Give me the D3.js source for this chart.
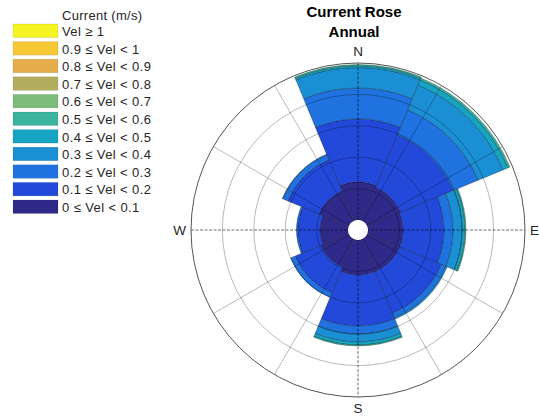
<!DOCTYPE html>
<html>
<head>
<meta charset="utf-8">
<script src="https://cdn.jsdelivr.net/npm/d3@7"></script>
<style>
  html, body { margin: 0; padding: 0; background: #fff; }
  svg { display: block; font-family: "Liberation Sans", Arial, Helvetica, sans-serif; }
</style>
</head>
<body>
<svg id="chart" width="539" height="416"></svg>
<script>
// Compass sectors (degrees clockwise from north), each 45° wide
const directions = ["N", "NE", "E", "SE", "S", "SW", "W", "NW"];
const directionAngles = [0, 45, 90, 135, 180, 225, 270, 315];

// Speed classes, lowest first
const speedLabels = [
  "0 \u2264 Vel < 0.1", "0.1 \u2264 Vel < 0.2", "0.2 \u2264 Vel < 0.3", "0.3 \u2264 Vel < 0.4",
  "0.4 \u2264 Vel < 0.5", "0.5 \u2264 Vel < 0.6", "0.6 \u2264 Vel < 0.7", "0.7 \u2264 Vel < 0.8",
  "0.8 \u2264 Vel < 0.9", "0.9 \u2264 Vel < 1", "Vel \u2265 1"
];
const speedColors = [
  "#2f2a8a", "#2349da", "#1f72df", "#1a8fd4", "#15a5c3", "#3bb49d",
  "#7dbc7b", "#b2ae5d", "#e6ad4b", "#f6c834", "#f6f524"
];

// Frequency of occurrence (%) per speed class, ordered N, NE, E, SE, S, SW, W, NW
const freq0_01 = [4.84, 4.59, 4.46, 4.46, 4.46, 3.82, 3.57, 4.08];
const freq01_02 = [8.03, 7.26, 5.22, 5.73, 6.50, 3.57, 2.80, 4.33];
const freq02_03 = [3.95, 3.44, 1.15, 0.64, 1.01, 0.64, 0.19, 0.70];
const freq03_04 = [2.61, 3.44, 1.15, 0.19, 1.02, 0, 0, 0.06];
const freq04_05 = [0.23, 0.70, 0.38, 0, 0.38, 0, 0, 0];
const freq05_06 = [0.15, 0.25, 0.13, 0, 0.13, 0, 0, 0];
const freq06_07 = [0, 0, 0, 0, 0, 0, 0, 0];
const freq07_08 = [0, 0, 0, 0, 0, 0, 0, 0];
const freq08_09 = [0, 0, 0, 0, 0, 0, 0, 0];
const freq09_1 = [0, 0, 0, 0, 0, 0, 0, 0];
const freq1_up = [0, 0, 0, 0, 0, 0, 0, 0];
const speedFreqs = [freq0_01, freq01_02, freq02_03, freq03_04, freq04_05, freq05_06,
                    freq06_07, freq07_08, freq08_09, freq09_1, freq1_up];

// Frequency rings (%)
const ringTicks = [4, 8, 12, 16, 20];
const radialGridAngles = [30, 60, 120, 150, 210, 240, 300, 330];

const titleLines = ["Current Rose", "Annual"];
const legendTitle = "Current (m/s)";

const svg = d3.select("#chart");
const cx = 358, cy = 230;
const holeR = 10, outerR = 167;
const sectorWidth = 45;

const r = d3.scaleLinear().domain([0, d3.max(ringTicks)]).range([holeR, outerR]);
const rad = d => d * Math.PI / 180;

const g = svg.append("g").attr("transform", `translate(${cx},${cy})`);

// Stacked wedges
const arc = d3.arc();
const wedges = [];
directions.forEach((dir, i) => {
  let cum = 0;
  speedFreqs.forEach((f, s) => {
    const v = f[i];
    if (v > 0) {
      wedges.push({ dir, s, inner: cum, outer: cum + v, angle: directionAngles[i] });
    }
    cum += v;
  });
});

g.append("g").selectAll("path").data(wedges).join("path")
  .attr("d", d => arc({
    innerRadius: r(d.inner), outerRadius: r(d.outer),
    startAngle: rad(d.angle - sectorWidth / 2), endAngle: rad(d.angle + sectorWidth / 2)
  }))
  .attr("fill", d => speedColors[d.s])
  .attr("stroke", "rgba(0,0,0,0.35)")
  .attr("stroke-width", 0.8);

// Grid rings and radial lines, drawn over the wedges
const grid = g.append("g");
grid.selectAll("circle.ring").data(ringTicks.slice(0, -1)).join("circle")
  .attr("class", "ring")
  .attr("r", d => r(d))
  .attr("fill", "none")
  .attr("stroke", "rgba(0,0,0,0.35)")
  .attr("stroke-width", 0.8);

grid.selectAll("line.spoke").data(radialGridAngles).join("line")
  .attr("class", "spoke")
  .attr("x1", d => holeR * Math.sin(rad(d)))
  .attr("y1", d => -holeR * Math.cos(rad(d)))
  .attr("x2", d => outerR * Math.sin(rad(d)))
  .attr("y2", d => -outerR * Math.cos(rad(d)))
  .attr("stroke", "rgba(0,0,0,0.35)")
  .attr("stroke-width", 0.8);

// Main compass axes
grid.append("line").attr("x1", -outerR).attr("x2", outerR).attr("y1", 0).attr("y2", 0)
  .attr("stroke", "rgba(0,0,0,0.7)").attr("stroke-width", 0.8).attr("stroke-dasharray", "3 1.5");
grid.append("line").attr("y1", -outerR).attr("y2", outerR).attr("x1", 0).attr("x2", 0)
  .attr("stroke", "rgba(0,0,0,0.7)").attr("stroke-width", 0.8).attr("stroke-dasharray", "3 1.5");

// Outer boundary and centre hole
g.append("circle").attr("r", outerR).attr("fill", "none")
  .attr("stroke", "#555").attr("stroke-width", 1);
g.append("circle").attr("r", holeR).attr("fill", "#fff");

// Cardinal labels
const cardinal = [
  { t: "N", x: 0, y: -outerR - 7, anchor: "middle" },
  { t: "S", x: 0, y: outerR + 16, anchor: "middle" },
  { t: "E", x: outerR + 5, y: 5, anchor: "start" },
  { t: "W", x: -outerR - 5, y: 5, anchor: "end" }
];
g.selectAll("text.card").data(cardinal).join("text")
  .attr("class", "card")
  .attr("x", d => d.x).attr("y", d => d.y)
  .attr("text-anchor", d => d.anchor)
  .attr("font-size", 13.5)
  .attr("fill", "#262626")
  .text(d => d.t);

// Title
svg.selectAll("text.title").data(titleLines).join("text")
  .attr("class", "title")
  .attr("x", 354)
  .attr("y", (d, i) => 17 + i * 19.5)
  .attr("text-anchor", "middle")
  .attr("font-size", 15)
  .attr("font-weight", "bold")
  .attr("fill", "#000")
  .text(d => d);

// Legend, highest speed class at the top
const legend = svg.append("g");
legend.append("text").attr("x", 62).attr("y", 19.5)
  .attr("font-size", 13).attr("letter-spacing", 0.3)
  .attr("fill", "#262626").text(legendTitle);

const legendItems = speedLabels.map((l, i) => ({ label: l, color: speedColors[i] })).reverse();
const item = legend.selectAll("g.item").data(legendItems).join("g")
  .attr("class", "item")
  .attr("transform", (d, i) => `translate(13, ${24 + i * 17.6})`);
item.append("rect").attr("width", 45).attr("height", 13.5)
  .attr("fill", d => d.color).attr("stroke", "rgba(0,0,0,0.15)").attr("stroke-width", 0.6);
item.append("text").attr("x", 49).attr("y", 12)
  .attr("font-size", 13).attr("letter-spacing", 0.4)
  .attr("fill", "#262626").text(d => d.label);
</script>
</body>
</html>
